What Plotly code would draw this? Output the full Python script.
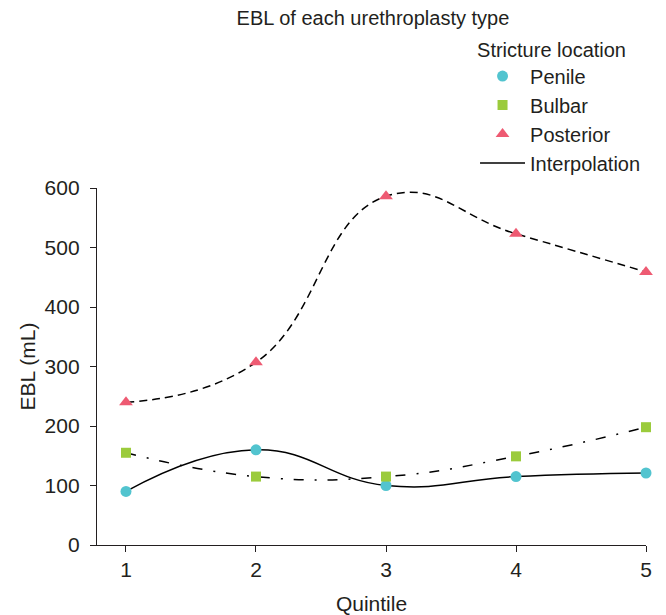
import plotly.graph_objects as go

quintiles = [1, 2, 3, 4, 5]
penile = [90, 160, 100, 115, 121]
bulbar = [155, 115, 115, 149, 198]
posterior = [240, 307, 586, 523, 459]

series_names = ["Penile", "Bulbar", "Posterior"]
colors = ["#52C4CF", "#9BCB3C", "#EE5A72"]
symbols = ["circle", "square", "triangle-up"]
sizes = [11, 10, 12]
dashes = ["solid", "10px,11px,2px,11px", "8px,5px"]

TXT = "#231F20"
FONT = "Liberation Sans, Arial, sans-serif"

fig = go.Figure()
data = [penile, bulbar, posterior]

for vals, dash in zip(data, dashes):
    fig.add_trace(go.Scatter(
        x=quintiles, y=vals, mode="lines", line_shape="spline",
        line=dict(color="black", width=1.5, dash=dash, smoothing=1.3),
        showlegend=False, cliponaxis=False, hoverinfo="skip"))

for name, vals, c, s, sz in zip(series_names, data, colors, symbols, sizes):
    fig.add_trace(go.Scatter(
        x=quintiles, y=vals, mode="markers", name=name,
        marker=dict(color=c, symbol=s, size=sz, line=dict(width=0)),
        cliponaxis=False))

fig.add_trace(go.Scatter(
    x=[None], y=[None], mode="lines", name="Interpolation",
    line=dict(color="black", width=1.5)))

fig.update_layout(
    width=666, height=615,
    paper_bgcolor="white", plot_bgcolor="white",
    font=dict(family=FONT, size=21, color=TXT),
    margin=dict(l=97, r=20, t=188, b=70, autoexpand=False),
    title=dict(text="EBL of each urethroplasty type", x=0.56, xanchor="center",
               y=0.971, yanchor="middle", font=dict(size=20, color=TXT)),
    legend=dict(
        title=dict(text="Stricture location", font=dict(size=20, color=TXT)),
        x=0.6886, xanchor="left", y=1.441, yanchor="top",
        bgcolor="rgba(0,0,0,0)", itemwidth=45, tracegroupgap=0,
        font=dict(size=20, color=TXT)),
    xaxis=dict(
        range=[0.777, 5], tickvals=quintiles, ticktext=[str(q) for q in quintiles],
        showgrid=False, zeroline=False, showline=True, linecolor="#231F20",
        linewidth=1.3, ticks="outside", ticklen=6, tickcolor="#231F20",
        automargin=False,
        title=dict(text="Quintile", font=dict(size=21, color=TXT), standoff=15),
        tickfont=dict(size=21, color=TXT)),
    yaxis=dict(
        range=[0, 600], tickvals=[0, 100, 200, 300, 400, 500, 600],
        showgrid=False, zeroline=False, showline=True, linecolor="#231F20",
        linewidth=1.3, ticks="outside", ticklen=6, tickcolor="#231F20",
        automargin=False, ticklabelstandoff=6,
        title=dict(text="EBL (mL)", font=dict(size=21, color=TXT), standoff=3),
        tickfont=dict(size=21, color=TXT)),
)

fig.write_html("out.html", config={"displayModeBar": False},
               post_script="document.body.style.margin='0';")
